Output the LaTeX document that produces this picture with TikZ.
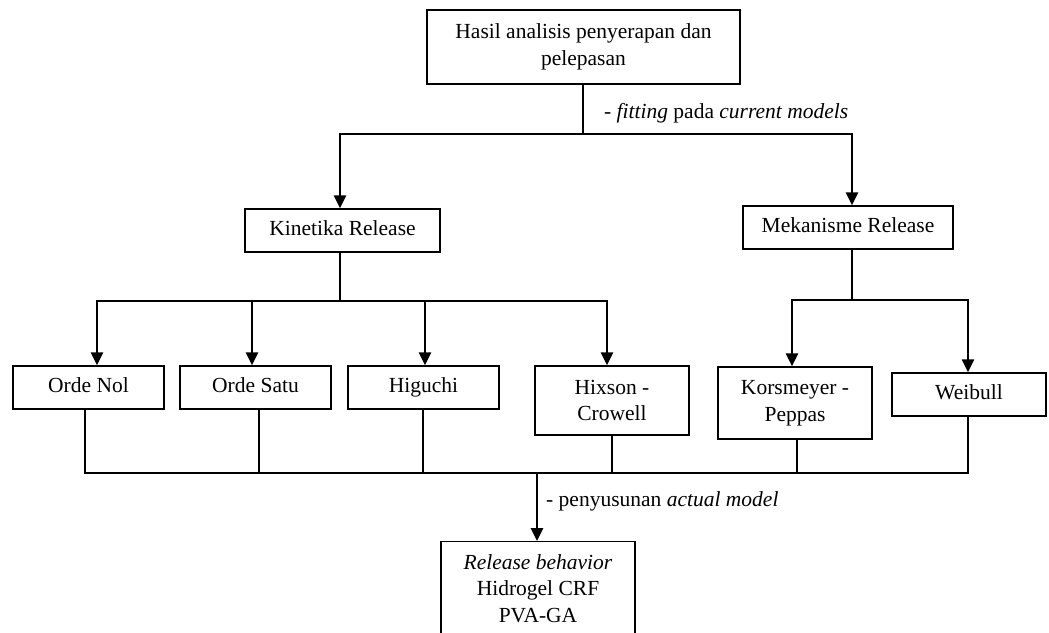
\documentclass[tikz,border=0pt]{standalone}
\usepackage{fontspec}
\setmainfont{Liberation Serif}
\usetikzlibrary{arrows.meta}
\begin{document}
\begin{tikzpicture}[x=1pt,y=-1pt,
  box/.style={draw=black,line width=1.4pt,align=center,inner sep=0pt,
    font=\fontsize{21.5}{26.5}\selectfont},
  one/.style={box,text height=15pt,text depth=5pt},
  conn/.style={line width=2.9pt,line cap=rect},
  arr/.style={conn,-{Triangle[length=13pt,width=12pt]}},
  lbl/.style={font=\fontsize{21.5}{26}\selectfont,anchor=west,inner sep=0pt}]
\clip (0,0) rectangle (1049,632);
\fill[white] (0,0) rectangle (1049,632);
% boxes
\node[box,minimum width=313pt,minimum height=74pt] (top) at (583.5,47) {Hasil analisis penyerapan dan\\pelepasan};
\node[one,minimum width=195pt,minimum height=43pt] (kin) at (342.5,230.5) {Kinetika Release};
\node[one,minimum width=210pt,minimum height=43pt] (mek) at (848,227.5) {Mekanisme Release};
\node[one,minimum width=151pt,minimum height=43pt] (nol) at (88.5,387.5) {Orde Nol};
\node[one,minimum width=151pt,minimum height=43pt] (satu) at (255.5,387.5) {Orde Satu};
\node[one,minimum width=151pt,minimum height=43pt] (hig) at (423.5,387.5) {Higuchi};
\node[box,minimum width=154pt,minimum height=69pt] (hix) at (612,400.5) {Hixson -\\Crowell};
\node[box,minimum width=154pt,minimum height=72pt] (kor) at (795,403) {Korsmeyer -\\Peppas};
\node[one,minimum width=154pt,minimum height=43pt] (wei) at (969,394.5) {Weibull};
\node[box,minimum width=194pt,minimum height=110pt,anchor=north] (rel) at (538,541) {};
\node[font=\fontsize{21.5}{26.5}\selectfont,align=center,anchor=north,inner sep=0pt] (reltxt) at (538,554) {\textit{Release behavior}\\Hidrogel CRF\\PVA-GA};
% top branch
\coordinate (j1) at (583,134);
\draw[conn] (583,0 |- top.south) -- (j1);
\draw[arr] (j1) -| (340,0 |- kin.north);
\draw[arr] (j1) -| (852,0 |- mek.north);
\node[lbl] (fit) at (604,113) {- \textit{fitting} pada \textit{current models}};
% kinetika branch
\coordinate (j2) at (340,301);
\draw[conn] (340,0 |- kin.south) -- (j2);
\draw[arr] (j2) -| (97,0 |- nol.north);
\draw[arr] (j2) -| (252,0 |- satu.north);
\draw[arr] (j2) -| (425,0 |- hig.north);
\draw[arr] (j2) -| (607,0 |- hix.north);
% mekanisme branch
\coordinate (j3) at (852,300);
\draw[conn] (852,0 |- mek.south) -- (j3);
\draw[arr] (j3) -| (792,0 |- kor.north);
\draw[arr] (j3) -| (968,0 |- wei.north);
% bottom collection
\coordinate (b1) at (85,473);
\coordinate (b6) at (968,473);
\coordinate (j4) at (537,473);
\draw[conn] (b1) -- (b6);
\draw[conn] (85,0 |- nol.south) -- (b1);
\draw[conn] (259,0 |- satu.south) -- (259,473);
\draw[conn] (423,0 |- hig.south) -- (423,473);
\draw[conn] (612,0 |- hix.south) -- (612,473);
\draw[conn] (797,0 |- kor.south) -- (797,473);
\draw[conn] (968,0 |- wei.south) -- (b6);
\draw[arr] (j4) -- (537,0 |- rel.north);
\node[lbl] (act) at (546,501) {- penyusunan \textit{actual model}};
\end{tikzpicture}
\end{document}
